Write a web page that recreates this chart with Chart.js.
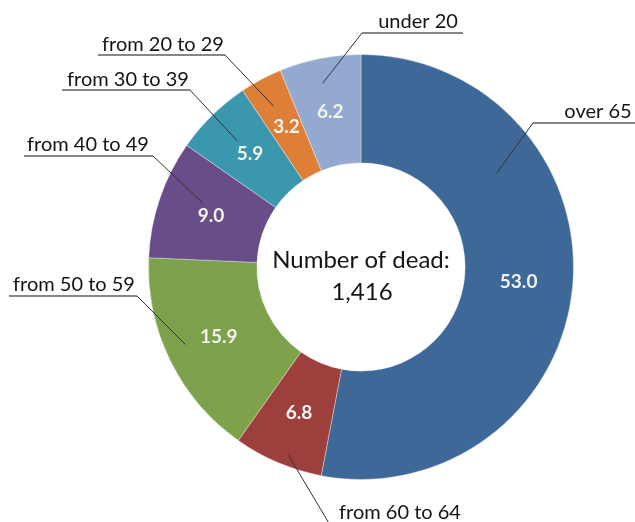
<!DOCTYPE html>
<html>
<head>
<meta charset="utf-8">
<script src="https://cdn.jsdelivr.net/npm/chart.js@4/dist/chart.umd.min.js"></script>
<style>
  html, body { margin: 0; padding: 0; background: #fff; }
  #wrap { width: 635px; height: 522px; }
</style>
</head>
<body>
<div id="wrap"><canvas id="deadChart" width="635" height="522"></canvas></div>
<script>
const categories = ['over 65', 'from 60 to 64', 'from 50 to 59', 'from 40 to 49', 'from 30 to 39', 'from 20 to 29', 'under 20'];
const shares = [53.0, 6.8, 15.9, 9.0, 5.9, 3.2, 6.2];
const totalDead = 1416;
const centerTitle = 'Number of dead:';

const sliceColors = ['#3d6897', '#9d3f3c', '#7ea24b', '#694d89', '#3a97ae', '#de7f38', '#93a9cf'];

// callout placement: text centre, underline y, elbow x, far end of underline, anchor inside the slice
const callouts = [
  { tx: 598, ty: 112, lineY: 123, elbowX: 533, endX: 635, frac: 0.29, rf: 0.56 },
  { tx: 400, ty: 513, lineY: 525, elbowX: 330, endX: 470, frac: 0.42, rf: 0.90 },
  { tx: 74,  ty: 285, lineY: 296, elbowX: 137, endX: 9,   frac: 0.54, rf: 0.81 },
  { tx: 88,  ty: 145, lineY: 156, elbowX: 153, endX: 24,  frac: 0.60, rf: 0.61 },
  { tx: 128, ty: 80,  lineY: 90,  elbowX: 190, endX: 62,  frac: 0.50, rf: 0.67 },
  { tx: 163, ty: 45,  lineY: 55,  elbowX: 225, endX: 98,  frac: 0.46, rf: 0.73 },
  { tx: 418, ty: 22,  lineY: 33,  elbowX: 362, endX: 463, frac: 0.47, rf: 0.77 }
];

const labelFont = '20px Lato, "Open Sans", sans-serif';
const valueFont = 'bold 19px Lato, "Open Sans", sans-serif';
const centerFont = '24px Lato, "Open Sans", sans-serif';

const doughnutLabels = {
  id: 'doughnutLabels',
  afterDatasetsDraw(chart) {
    const ctx = chart.ctx;
    const meta = chart.getDatasetMeta(0);
    ctx.save();
    ctx.textAlign = 'center';
    ctx.textBaseline = 'middle';

    meta.data.forEach((arc, i) => {
      const p = arc.getProps(['x', 'y', 'startAngle', 'endAngle', 'innerRadius', 'outerRadius'], true);
      const c = callouts[i];

      // leader line from the underline elbow into the slice
      const a = p.startAngle + (p.endAngle - p.startAngle) * c.frac;
      const r = p.innerRadius + (p.outerRadius - p.innerRadius) * c.rf;
      const ax = p.x + Math.cos(a) * r;
      const ay = p.y + Math.sin(a) * r;
      ctx.strokeStyle = '#333';
      ctx.lineWidth = 1;
      ctx.beginPath();
      ctx.moveTo(c.elbowX, c.lineY);
      ctx.lineTo(ax, ay);
      ctx.stroke();

      // underline
      ctx.strokeStyle = '#5e5e5e';
      ctx.lineWidth = 1.5;
      ctx.beginPath();
      ctx.moveTo(c.elbowX, c.lineY);
      ctx.lineTo(c.endX, c.lineY);
      ctx.stroke();

      ctx.fillStyle = '#141414';
      ctx.font = labelFont;
      ctx.fillText(categories[i], c.tx, c.ty);

      // value inside the slice
      const pos = arc.tooltipPosition();
      ctx.fillStyle = '#f3f3ee';
      ctx.font = valueFont;
      ctx.fillText(shares[i].toFixed(1), pos.x, pos.y);
    });

    // centre caption
    const first = meta.data[0];
    ctx.fillStyle = '#141414';
    ctx.font = centerFont;
    ctx.fillText(centerTitle, first.x, first.y - 7);
    ctx.fillText(totalDead.toLocaleString('en-US'), first.x + 1, first.y + 25);
    ctx.restore();
  }
};

new Chart(document.getElementById('deadChart'), {
  type: 'doughnut',
  data: {
    labels: categories,
    datasets: [{
      data: shares,
      backgroundColor: sliceColors,
      borderColor: 'rgba(255,255,255,0.35)',
      borderWidth: 1
    }]
  },
  options: {
    responsive: false,
    animation: false,
    cutout: '49%',
    layout: { padding: { top: 54, bottom: 42, left: 148, right: 61 } },
    plugins: {
      legend: { display: false },
      tooltip: { enabled: false }
    }
  },
  plugins: [doughnutLabels]
});
</script>
</body>
</html>
